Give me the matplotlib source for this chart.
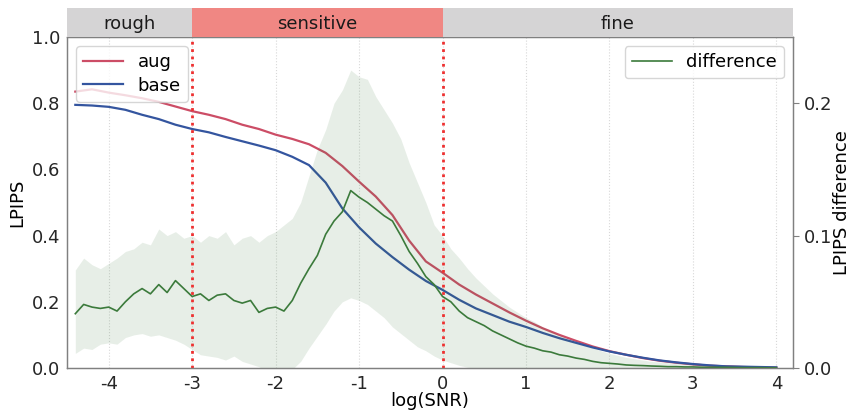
import numpy as np
import matplotlib.pyplot as plt

plt.rcParams["axes.unicode_minus"] = False
plt.rcParams["font.family"] = "DejaVu Sans"

# LPIPS curves (left axis)
x_curve = np.round(np.arange(-4.4, 4.01, 0.2), 2)
lpips_base = [0.795, 0.793, 0.789, 0.780, 0.765, 0.752, 0.735, 0.722, 0.712, 0.698,
              0.685, 0.672, 0.658, 0.638, 0.613, 0.560, 0.482, 0.425, 0.376, 0.335,
              0.297, 0.263, 0.236, 0.206, 0.180, 0.160, 0.140, 0.124, 0.106, 0.090,
              0.076, 0.062, 0.050, 0.040, 0.031, 0.023, 0.017, 0.012, 0.008, 0.005,
              0.004, 0.003, 0.002]
lpips_aug = [0.835, 0.842, 0.832, 0.824, 0.815, 0.804, 0.790, 0.776, 0.765, 0.752,
             0.735, 0.722, 0.705, 0.692, 0.676, 0.650, 0.610, 0.563, 0.518, 0.462,
             0.385, 0.322, 0.288, 0.252, 0.222, 0.195, 0.168, 0.143, 0.120, 0.100,
             0.082, 0.065, 0.051, 0.040, 0.030, 0.022, 0.016, 0.011, 0.007, 0.005,
             0.003, 0.002, 0.001]

# LPIPS difference (right axis): mean and spread band
x_diff = np.round(np.arange(-4.4, 4.01, 0.1), 2)
diff_mean = [0.041, 0.048, 0.046, 0.045, 0.046, 0.043, 0.050, 0.056, 0.060, 0.056,
             0.063, 0.057, 0.066, 0.060, 0.054, 0.056, 0.051, 0.055, 0.056, 0.051,
             0.049, 0.051, 0.042, 0.045, 0.046, 0.043, 0.051, 0.064, 0.075, 0.085,
             0.101, 0.111, 0.118, 0.134, 0.129, 0.125, 0.120, 0.115, 0.111, 0.100,
             0.088, 0.079, 0.069, 0.063, 0.054, 0.050, 0.043, 0.038, 0.035, 0.032,
             0.028, 0.025, 0.022, 0.019, 0.0165, 0.015, 0.013, 0.012, 0.010, 0.009,
             0.0075, 0.0065, 0.005, 0.004, 0.0035, 0.003, 0.0023, 0.002, 0.0018, 0.0015,
             0.0013, 0.001, 0.001, 0.0008, 0.0008, 0.0006, 0.0005, 0.0005, 0.0005, 0.0004,
             0.0003, 0.0003, 0.0003, 0.0002, 0.0002]
diff_upper = [0.074, 0.083, 0.078, 0.075, 0.079, 0.083, 0.088, 0.090, 0.095, 0.093,
              0.105, 0.100, 0.103, 0.098, 0.100, 0.095, 0.100, 0.098, 0.103, 0.093,
              0.098, 0.100, 0.095, 0.100, 0.103, 0.108, 0.113, 0.125, 0.145, 0.165,
              0.180, 0.200, 0.210, 0.225, 0.220, 0.218, 0.205, 0.195, 0.185, 0.173,
              0.155, 0.140, 0.125, 0.108, 0.100, 0.090, 0.083, 0.075, 0.068, 0.062,
              0.056, 0.051, 0.046, 0.042, 0.038, 0.035, 0.031, 0.028, 0.025, 0.022,
              0.019, 0.017, 0.015, 0.013, 0.011, 0.0095, 0.008, 0.007, 0.006, 0.005,
              0.0045, 0.004, 0.0035, 0.003, 0.0025, 0.002, 0.0018, 0.0016, 0.0014, 0.0012,
              0.001, 0.0009, 0.0008, 0.0007, 0.0006]
diff_lower = [0.011, 0.015, 0.014, 0.018, 0.019, 0.018, 0.023, 0.025, 0.026, 0.024,
              0.025, 0.023, 0.021, 0.018, 0.014, 0.010, 0.009, 0.008, 0.006, 0.009,
              0.005, 0.003, 0.001, -0.003, -0.005, -0.005, -0.001, 0.005, 0.015, 0.024,
              0.033, 0.043, 0.050, 0.053, 0.051, 0.048, 0.043, 0.038, 0.031, 0.026,
              0.021, 0.016, 0.013, 0.009, 0.006, 0.004, 0.002, 0.0005] + [0.0] * 37

regions = ["rough", "sensitive", "fine"]
region_edges = [-4.5, -3.0, 0.0, 4.2]
region_colors = ["#d5d4d5", "#f08783", "#d5d4d5"]

fig = plt.figure(figsize=(8.52, 4.12), dpi=100)
ax = fig.add_axes([0.0786, 0.1068, 0.8522, 0.8034])
ax2 = ax.twinx()

ax.plot(x_curve, lpips_aug, color="#cc4d66", lw=1.6, label="aug")
ax.plot(x_curve, lpips_base, color="#34559f", lw=1.6, label="base")

ax2.fill_between(x_diff, diff_lower, diff_upper, color="#3d7a3d", alpha=0.12, lw=0)
ax2.plot(x_diff, diff_mean, color="#3b7a3b", lw=1.2, label="difference")
for xv in region_edges[1:3]:
    ax2.axvline(xv, color="#ee3030", linestyle=":", lw=2)

ax.set_xlim(-4.5, 4.2)
ax.set_ylim(0, 1.0)
ax2.set_ylim(0, 0.25)
ax.set_xticks(range(-4, 5))
ax.set_yticks([0, 0.2, 0.4, 0.6, 0.8, 1.0])
ax2.set_yticks([0, 0.1, 0.2])
ax.grid(axis="x", linestyle=":", color="#d8d8d8", lw=0.8)

for a in (ax, ax2):
    for s in a.spines.values():
        s.set_color("#808080")
        s.set_linewidth(0.9)
ax.tick_params(axis="both", length=0, labelsize=13, labelcolor="#262626", pad=5)
ax2.tick_params(axis="y", length=4, color="#808080", labelsize=13, labelcolor="#262626")

ax.set_xlabel("log(SNR)", fontsize=13, labelpad=-1)
ax.set_ylabel("LPIPS", fontsize=13)
ax2.set_ylabel("LPIPS difference", fontsize=13, labelpad=1)

ax.legend(loc="upper left", fontsize=13, handlelength=2.2, borderpad=0.4, labelspacing=0.3)
ax2.legend(loc="upper right", fontsize=13, handlelength=2.2, borderpad=0.4)

# region band above the plot
band = fig.add_axes([0.0786, 0.9102, 0.8522, 0.0704])
band.set_xlim(ax.get_xlim())
band.set_ylim(0, 1)
for name, lo, hi, c in zip(regions, region_edges[:-1], region_edges[1:], region_colors):
    band.axvspan(lo, hi, color=c, lw=0)
    band.text((lo + hi) / 2, 0.45, name, ha="center", va="center", fontsize=13, color="#1a1a1a")
band.set_xticks([])
band.set_yticks([])
for s in band.spines.values():
    s.set_visible(False)

fig.savefig("out.png", dpi=100)
